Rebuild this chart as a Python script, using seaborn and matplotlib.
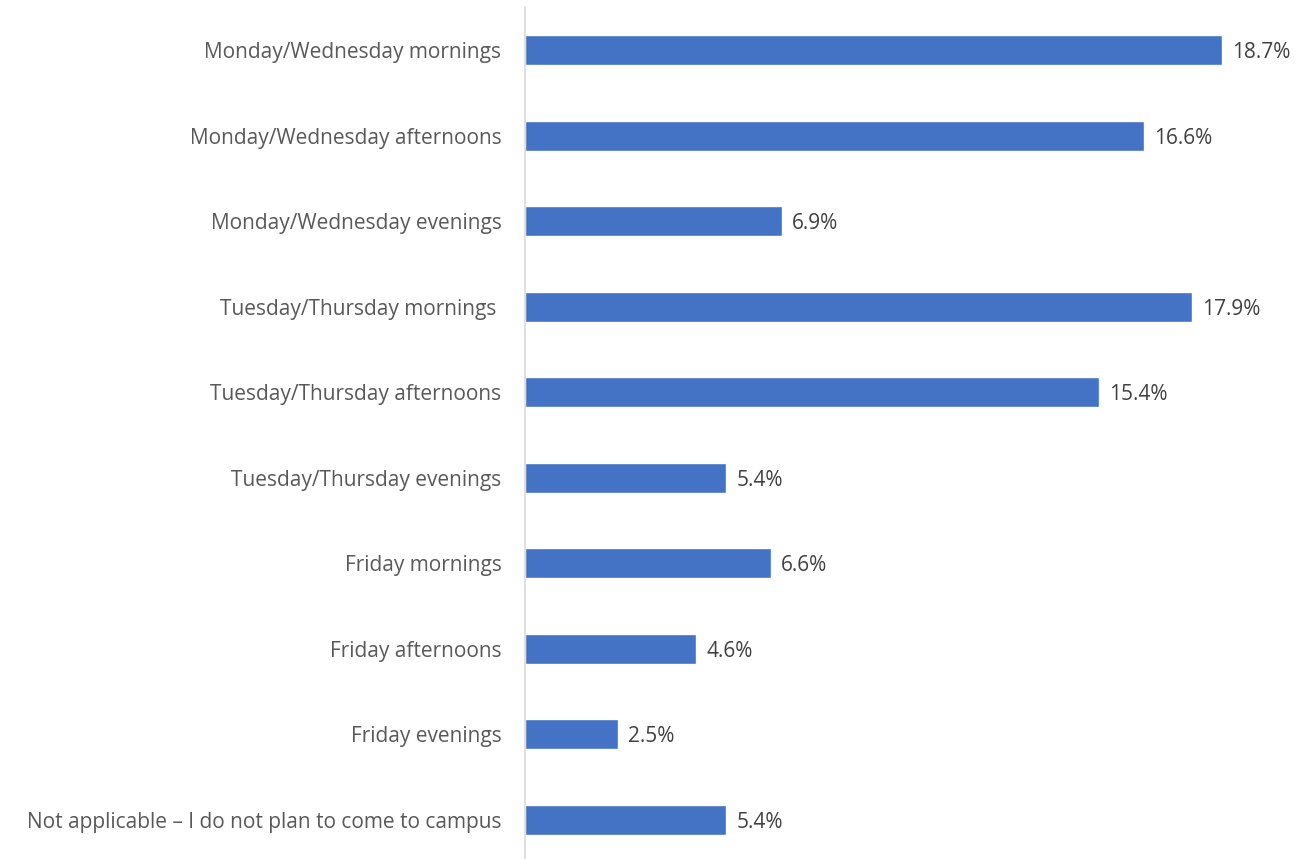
import matplotlib
matplotlib.use("Agg")
import matplotlib.pyplot as plt
import seaborn as sns
import pandas as pd

categories = [
    "Monday/Wednesday mornings",
    "Monday/Wednesday afternoons",
    "Monday/Wednesday evenings",
    "Tuesday/Thursday mornings ",
    "Tuesday/Thursday afternoons",
    "Tuesday/Thursday evenings",
    "Friday mornings",
    "Friday afternoons",
    "Friday evenings",
    "Not applicable \u2013 I do not plan to come to campus",
]
values = [18.7, 16.6, 6.9, 17.9, 15.4, 5.4, 6.6, 4.6, 2.5, 5.4]

df = pd.DataFrame({"slot": categories, "pct": values})

sns.set_style("white")
plt.rcParams["font.family"] = ["Open Sans", "DejaVu Sans"]

W, H = 1306, 859
fig = plt.figure(figsize=(W / 100, H / 100), dpi=100)
ax = fig.add_axes([525 / W, 0, 1 - 525 / W, 1])

sns.barplot(data=df, x="pct", y="slot", order=categories, color="#4472C4",
            saturation=1, width=0.35, ax=ax)

# category spacing 85.5 px, first centre at y=50 px
step = 85.5
ax.set_ylim(9 + (H - 820) / step, -50 / step)
ax.set_xlim(0, (W - 525) / 37.27)

for i, v in enumerate(values):
    ax.text(v + 0.27, i + 0.03, f"{v:.1f}%", va="center", ha="left",
            fontsize=15, color="#404040")

ax.set_xlabel("")
ax.set_ylabel("")
ax.set_xticks([])
ax.tick_params(axis="y", length=0, pad=17, labelsize=15, labelcolor="#595959")
for s in ["top", "right", "bottom"]:
    ax.spines[s].set_visible(False)
ax.spines["left"].set_color("#D9D9D9")
ax.spines["left"].set_linewidth(1.2)
ax.spines["left"].set_bounds(-0.5, 9.5)

fig.savefig("out.png", dpi=100)
